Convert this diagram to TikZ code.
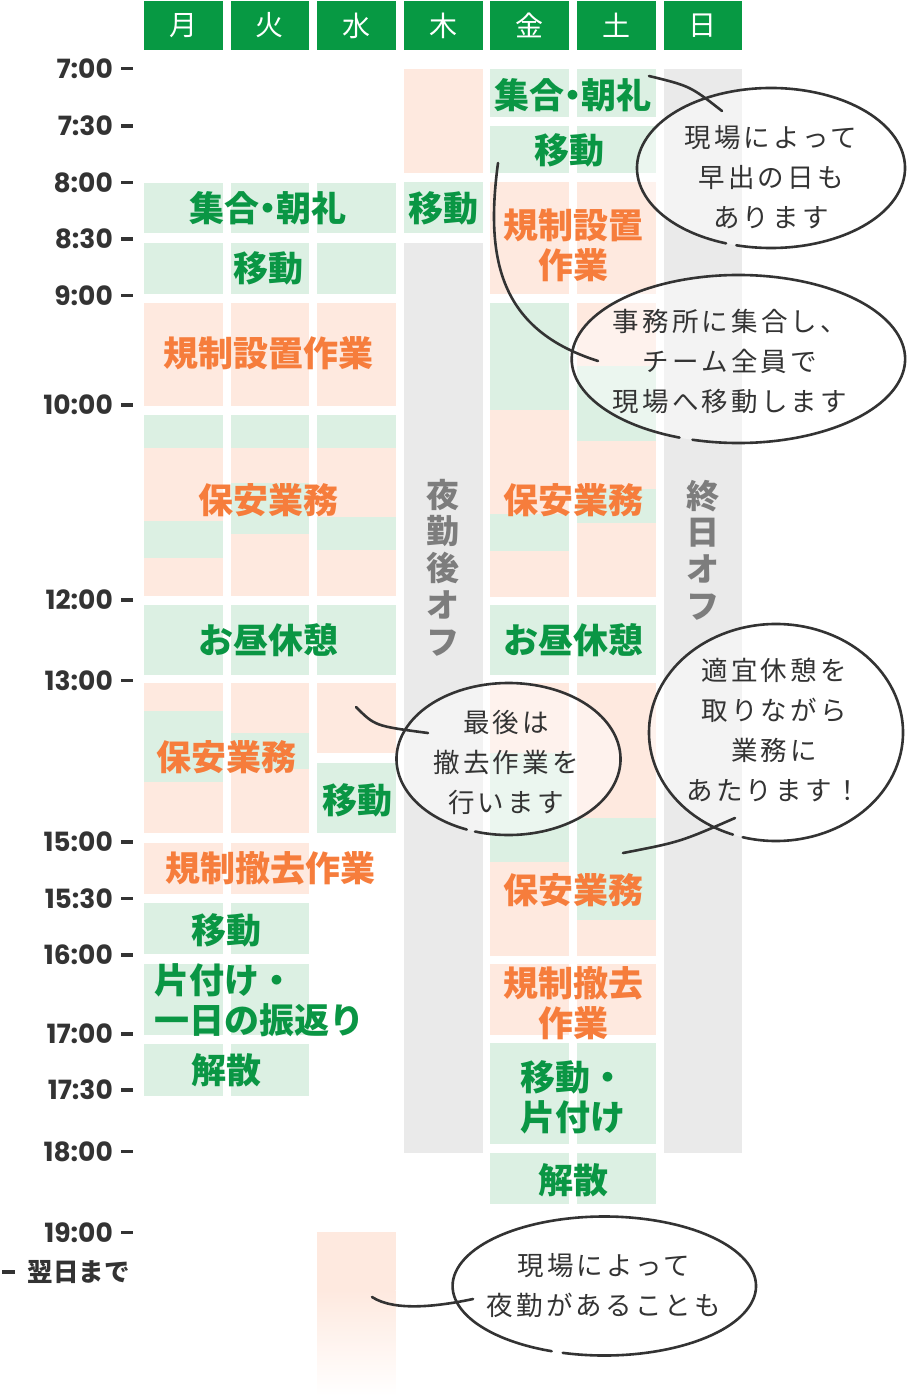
\documentclass[tikz,border=0pt]{standalone}
\usepackage{fontspec}
\setmainfont{Noto Sans CJK JP}
\newfontfamily\timefont{Poppins}
\newfontfamily\talkfont[LetterSpace=12]{Noto Sans CJK JP}
\definecolor{hdgreen}{RGB}{7,153,67}
\definecolor{txgreen}{RGB}{10,150,68}
\definecolor{bggreen}{RGB}{220,240,227}
\definecolor{bgpeach}{RGB}{254,233,223}
\definecolor{bggray}{RGB}{234,234,234}
\definecolor{txorange}{RGB}{246,125,60}
\definecolor{txgray}{RGB}{125,125,125}
\definecolor{ink}{RGB}{51,51,51}
\tikzset{
  day/.style={fill=hdgreen, text=white, minimum width=78.7pt, minimum height=49pt, inner sep=0pt, font=\fontsize{28}{30}\selectfont},
  task/.style={text=txgreen, inner sep=0pt, align=center, font=\bfseries\fontsize{35}{40}\selectfont},
  work/.style={text=txorange, inner sep=0pt, align=center, font=\bfseries\fontsize{35}{40}\selectfont},
  off/.style={text=txgray, inner sep=0pt, align=center, font=\bfseries\fontsize{33}{36.7}\selectfont},
  hour/.style={anchor=east, text=ink, inner sep=0pt, font=\timefont\bfseries\fontsize{26.5}{30}\selectfont},
  tick/.style={ink, line width=3.5pt},
  talk/.style={text=ink, inner sep=0pt, align=center, font=\talkfont\fontsize{26.5}{40}\selectfont},
  rim/.style={ink, line width=2.6pt, line cap=round},
  tail/.style={ink, line width=2.6pt, line cap=round},
}
% one coloured slot of a day column
\newcommand{\slot}[4]{\fill[#4] ({144+86.6*#1},#2) rectangle ({222.7+86.6*#1},#3);}
% speech balloon with a small gap at the bottom
\newcommand{\balloon}[6]{%
  \fill[white, fill opacity=0.45] (#1,#2) ellipse [x radius=#3, y radius=#4];
  \draw[rim] (#1,#2) ++(#5:#3 and #4) arc [start angle=#5, end angle=#6, x radius=#3, y radius=#4];}
\newcommand{\palt}[1]{{\addfontfeatures{RawFeature=+palt}#1}}
\begin{document}
\begin{tikzpicture}[x=1pt, y=-1pt]
\fill[white] (0,0) rectangle (907,1396);
\useasboundingbox (0,0) rectangle (907,1396);

% Days
\foreach \d [count=\i from 0] in {月,火,水,木,金,土,日}
  \node[day] (d\i) at ({183.35+86.6*\i},25.5) {\d};

% Hours
\foreach \t/\y [count=\k] in {7:00/68.3, 7:30/126, 8:00/182.7, 8:30/239, 9:00/295.7, 10:00/405,
    12:00/600, 13:00/680.7, 15:00/842, 15:30/898.7, 16:00/955, 17:00/1034, 17:30/1090,
    18:00/1151.7, 19:00/1232.7} {
  \node[hour] (t\k) at (113,\y) {\t};
  \draw[tick] ([xshift=8pt]t\k.east) -- ++(11.5,0);
}
\node[hour, font=\bfseries\fontsize{25.5}{30}\selectfont] (next) at (130,1272) {翌日まで};
\draw[tick] ([xshift=-13pt]next.west) -- ++(-13,0);

% Mon - Wed
\foreach \c in {0,1,2} {
  \slot{\c}{182.7}{233.3}{bggreen}
  \slot{\c}{242.7}{294}{bggreen}
  \slot{\c}{303}{405.7}{bgpeach}
  \slot{\c}{415}{448.3}{bggreen}
  \slot{\c}{448.3}{596}{bgpeach}
  \slot{\c}{604.7}{675}{bggreen}
}
\slot{0}{521}{557.7}{bggreen}
\slot{1}{482.7}{534.3}{bggreen}
\slot{2}{517.3}{550}{bggreen}
\foreach \c in {0,1} {
  \slot{\c}{682.7}{833.3}{bgpeach}
  \slot{\c}{843.3}{894.3}{bgpeach}
  \slot{\c}{903.3}{954.3}{bggreen}
  \slot{\c}{964}{1035}{bggreen}
  \slot{\c}{1044.3}{1095.7}{bggreen}
}
\slot{0}{711}{781.7}{bggreen}
\slot{1}{732.7}{769.3}{bggreen}
\slot{2}{682.7}{753.3}{bgpeach}
\slot{2}{762.7}{833.3}{bggreen}
\slot{2}{1231.7}{1290}{bgpeach}
\shade[top color=bgpeach, bottom color=white] (317,1290) rectangle (395.7,1396);

% Thu
\slot{3}{69.3}{173.3}{bgpeach}
\slot{3}{182.3}{233.3}{bggreen}
\slot{3}{242.7}{1153.3}{bggray}

% Fri - Sat
\foreach \c in {4,5} {
  \slot{\c}{69.3}{117.3}{bggreen}
  \slot{\c}{126}{173.3}{bggreen}
  \slot{\c}{182.3}{294}{bgpeach}
  \slot{\c}{303}{597}{bgpeach}
  \slot{\c}{605}{675}{bggreen}
  \slot{\c}{683}{956}{bgpeach}
  \slot{\c}{964}{1035}{bgpeach}
  \slot{\c}{1043.3}{1144.3}{bggreen}
  \slot{\c}{1153.3}{1204.3}{bggreen}
}
\slot{4}{303}{410}{bggreen}
\slot{4}{514.3}{551}{bggreen}
\slot{4}{753}{862}{bggreen}
\slot{5}{366}{441}{bggreen}
\slot{5}{489}{523.3}{bggreen}
\slot{5}{817.7}{920}{bggreen}

% Sun
\slot{6}{69.3}{1153.3}{bggray}

% Labels, Mon - Wed
\node[task] (meet1) at (268,208) {\palt{集合・朝礼}};
\node[task] (move1) at (268,268) {移動};
\node[work] (setup1) at (268,353) {規制設置作業};
\node[work] (guard1) at (268,500) {保安業務};
\node[task] (lunch1) at (268,640) {お昼休憩};
\node[work] (guard2) at (226,757) {保安業務};
\node[task] (move2) at (357,800) {移動};
\node[work] (clear1) at (270,868) {規制撤去作業};
\node[task] (move3) at (226,930) {移動};
\node[task, align=left, anchor=west] (tidy1) at (154,1000) {片付け・\\一日の振返り};
\node[task] (end1) at (226,1070) {解散};

% Labels, Thu
\node[task] (move4) at (443,208) {移動};
\node[off] (thuoff) at (443,567.5) {夜\\勤\\後\\オ\\フ};

% Labels, Fri - Sat
\node[task] (meet2) at (573,95) {\palt{集合・朝礼}};
\node[task] (move5) at (569,150) {移動};
\node[work] (setup2) at (573,245) {規制設置\\作業};
\node[work] (guard3) at (573,500) {保安業務};
\node[task] (lunch2) at (573,640) {お昼休憩};
\node[work] (guard4) at (573,890) {保安業務};
\node[work] (clear2) at (573,1003) {規制撤去\\作業};
\node[task] (tidy2) at (573,1097) {移動・\\片付け};
\node[task] (end2) at (573,1180) {解散};

% Labels, Sun
\node[off] (sunoff) at (703,550) {終\\日\\オ\\フ};

% Balloons
\balloon{771}{168}{134}{80}{109.6}{465}
\balloon{738.4}{359}{166.7}{84}{110.7}{466}
\balloon{508.5}{759}{112}{76}{111.9}{467.4}
\balloon{776}{732.5}{127}{108.5}{109.8}{465.2}
\balloon{604.3}{1286}{151.7}{69.5}{110.3}{465.9}

\coordinate (p1) at (649,76);   \coordinate (q1) at (722,111);
\coordinate (p2) at (498,163);  \coordinate (q2) at (598,361);
\coordinate (p3) at (356,707);  \coordinate (q3) at (428,733);
\coordinate (p4) at (623,853);  \coordinate (q4) at (735,818);
\coordinate (p5) at (372,1297); \coordinate (q5) at (473,1299);
\draw[tail] (p1) .. controls (690,86) .. (q1);
\draw[tail] (p2) .. controls (485,260) and (500,330) .. (q2);
\draw[tail] (p3) .. controls (375,726) .. (q3);
\draw[tail] (p4) .. controls (680,842) .. (q4);
\draw[tail] (p5) .. controls (395,1312) and (440,1306) .. (q5);

\node[talk] (b1) at (771,177) {現場によって\\早出の日も\\あります};
\node[talk] (b2) at (730,361) {事務所に集合し、\\チーム全員で\\現場へ移動します};
\node[talk] (b3) at (506,762) {最後は\\撤去作業を\\行います};
\node[talk] (b4) at (774,730) {適宜休憩を\\取りながら\\業務に\\あたります！};
\node[talk] (b5) at (604,1286) {現場によって\\夜勤があることも};
\end{tikzpicture}
\end{document}
